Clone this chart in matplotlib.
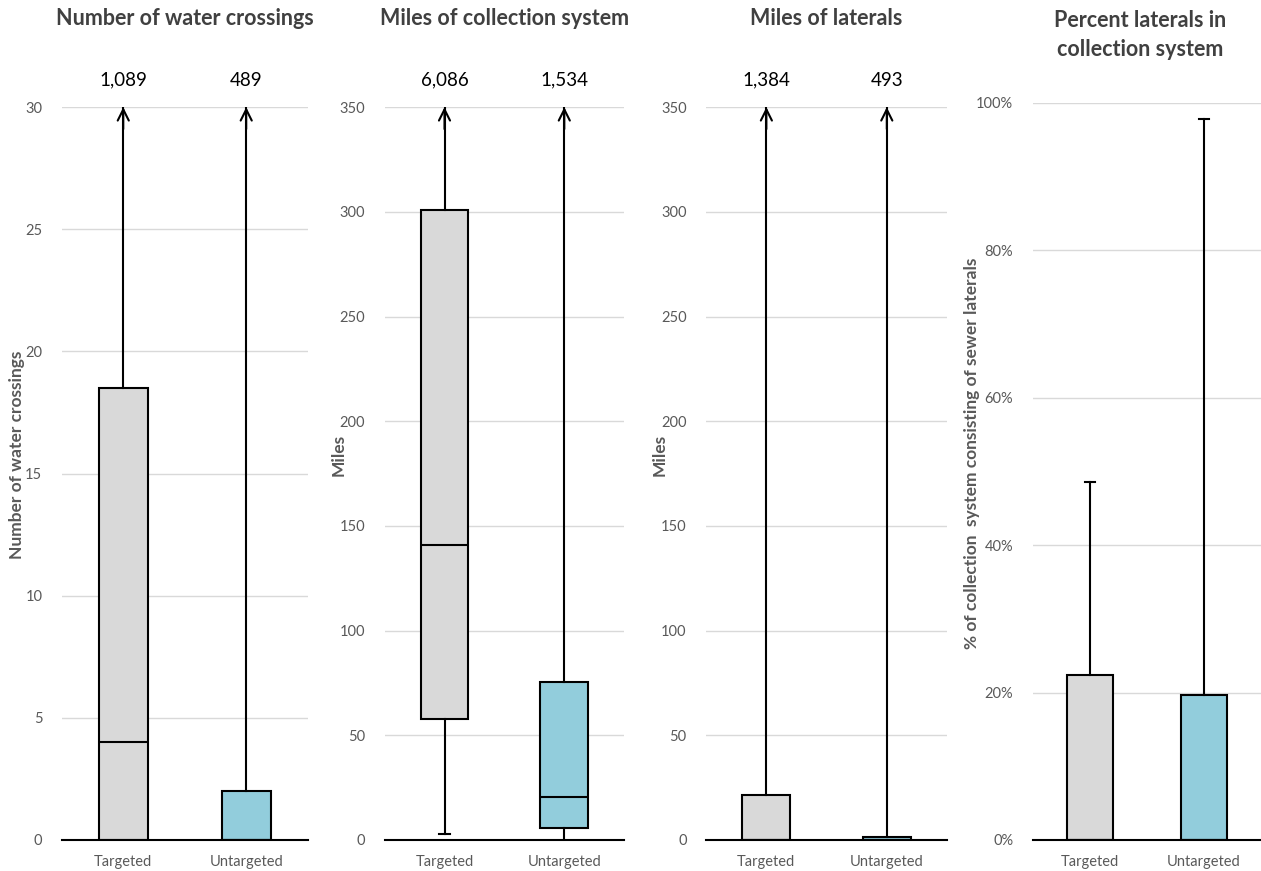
import matplotlib
matplotlib.use("Agg")
from matplotlib import pyplot as plt
from matplotlib.ticker import PercentFormatter

plt.rcParams['font.family'] = ['Lato', 'DejaVu Sans']

groups = ['Targeted', 'Untargeted']
colors = ['#D9D9D9', '#92CDDC']

titles = ['Number of water crossings', 'Miles of collection system',
          'Miles of laterals', 'Percent laterals in\ncollection system']
ylabels = ['Number of water crossings', 'Miles', 'Miles',
           '% of collection  system consisting of sewer laterals']
ymax = [30, 350, 350, 1.0]
ystep = [5, 50, 50, 0.2]

# box statistics per panel: [Targeted, Untargeted]
q1 = [[0, 0], [58, 5.7], [0, 0], [0, 0]]
med = [[4, 0], [141, 20.5], [0, 0], [0, 0]]
q3 = [[18.5, 2], [301, 75.5], [21.5, 1.5], [0.224, 0.197]]
lo = [[0, 0], [2.9, 0], [0, 0], [0, 0]]
hi = [[1089, 489], [6086, 1534], [1384, 493], [0.486, 0.978]]

fig = plt.figure(figsize=(12.61, 8.71), dpi=100)
lefts = [0.049, 0.305, 0.560, 0.819]
widths = [0.195, 0.190, 0.191, 0.181]
tops = [0.877, 0.877, 0.877, 0.882]
label_x = [-0.148, -0.158, -0.161, -0.232]
bottom = 0.0356

for i in range(4):
    ax = fig.add_axes([lefts[i], bottom, widths[i], tops[i] - bottom])
    stats = []
    for j in range(2):
        stats.append(dict(med=med[i][j], q1=q1[i][j], q3=q3[i][j],
                          whislo=lo[i][j], whishi=min(hi[i][j], ymax[i]),
                          fliers=[], label=groups[j]))
    bp = ax.bxp(stats, positions=[0.5, 1.5], widths=0.4, patch_artist=True,
                showfliers=False, capwidths=0.09,
                boxprops=dict(linewidth=1.5, edgecolor='black'),
                medianprops=dict(color='black', linewidth=1.5),
                whiskerprops=dict(color='black', linewidth=1.5),
                capprops=dict(color='black', linewidth=1.5))
    for patch, c in zip(bp['boxes'], colors):
        patch.set_facecolor(c)
    for j in range(2):
        # hide caps at zero and where the whisker runs off the scale
        if lo[i][j] == 0:
            bp['caps'][2 * j].set_visible(False)
        if hi[i][j] > ymax[i]:
            bp['caps'][2 * j + 1].set_visible(False)
            ax.annotate('', xy=(j + 0.5, ymax[i]),
                        xytext=(j + 0.5, ymax[i] * 0.97),
                        arrowprops=dict(arrowstyle='->', color='black',
                                        lw=1.5, mutation_scale=20,
                                        shrinkA=0, shrinkB=0),
                        annotation_clip=False)
            ax.text(j + 0.5, 1.037, f'{hi[i][j]:,}', ha='center',
                    va='center', fontsize=13.5, color='black',
                    transform=ax.get_xaxis_transform())

    ax.set_xlim(0, 2)
    ax.set_ylim(0, ymax[i])
    n = int(round(ymax[i] / ystep[i]))
    ax.set_yticks([k * ystep[i] for k in range(n + 1)])
    if i == 3:
        ax.yaxis.set_major_formatter(PercentFormatter(1.0, decimals=0))
    ax.grid(axis='y', color='#D9D9D9', linewidth=1)
    ax.set_axisbelow(True)
    for s in ['top', 'right', 'left']:
        ax.spines[s].set_visible(False)
    ax.spines['bottom'].set_linewidth(1.5)
    ax.spines['bottom'].set_zorder(5)
    ax.tick_params(axis='both', length=0, colors='#595959')
    ax.tick_params(axis='y', pad=14, labelsize=10.5)
    ax.tick_params(axis='x', pad=11, labelsize=10.5)
    ax.set_ylabel(ylabels[i], fontsize=12.5, fontweight='bold', color='#595959')
    ax.yaxis.set_label_coords(label_x[i], 0.525)
    cx = lefts[i] + widths[i] / 2
    if i == 3:
        fig.text(cx - 0.005, 0.96, titles[i], ha='center', va='center',
                 fontsize=15.5, fontweight='bold', color='#404040',
                 linespacing=1.45)
    else:
        fig.text(cx, 0.979, titles[i], ha='center', va='center',
                 fontsize=15.5, fontweight='bold', color='#404040')

fig.savefig('out.png', dpi=100)
